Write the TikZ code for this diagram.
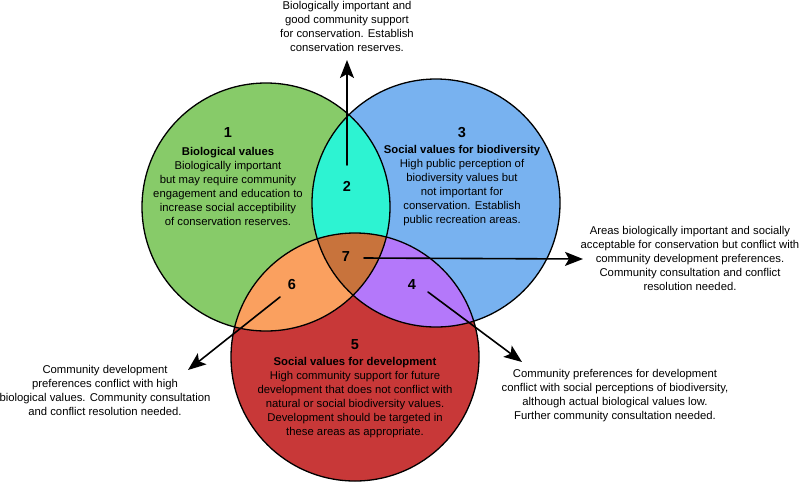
\documentclass[tikz,border=0pt]{standalone}
\usepackage{fontspec}
\setmainfont{Liberation Sans}
\usetikzlibrary{arrows.meta}

\definecolor{biogreen}{RGB}{135,203,105}
\definecolor{socblue}{RGB}{120,178,240}
\definecolor{devred}{RGB}{200,56,56}
\definecolor{overlapcyan}{RGB}{45,243,210}
\definecolor{overlaporange}{RGB}{250,160,95}
\definecolor{overlappurple}{RGB}{180,120,250}
\definecolor{overlapbrown}{RGB}{200,115,60}

\begin{document}
\begin{tikzpicture}[x=1pt,y=-1pt,line cap=round,line join=round,
        zonetext/.style={align=center,inner sep=0pt,
            font=\fontsize{11.3}{14}\selectfont},
        zonenum/.style={inner sep=1pt,font=\fontsize{14.5}{14.5}\selectfont\bfseries},
        pointer/.style={line width=1.6pt,
            -{Stealth[length=18pt,width=14pt,inset=4pt]}}]
        \def\rad{124}
        \def\gx{266}
        \def\gy{207}
        \def\bx{436}
        \def\by{203}
        \def\rx{355}
        \def\ry{357}

        \useasboundingbox (0,0) rectangle (800,483);
        \fill[white] (0,0) rectangle (800,483);

        % Three value circles
        \fill[biogreen] (\gx,\gy) circle[radius=\rad];
        \fill[socblue] (\bx,\by) circle[radius=\rad];
        \fill[devred] (\rx,\ry) circle[radius=\rad];

        % Overlap zones
        \begin{scope}
            \clip (\gx,\gy) circle[radius=\rad];
            \fill[overlapcyan] (\bx,\by) circle[radius=\rad];
            \fill[overlaporange] (\rx,\ry) circle[radius=\rad];
        \end{scope}
        \begin{scope}
            \clip (\bx,\by) circle[radius=\rad];
            \fill[overlappurple] (\rx,\ry) circle[radius=\rad];
            \clip (\gx,\gy) circle[radius=\rad];
            \fill[overlapbrown] (\rx,\ry) circle[radius=\rad];
        \end{scope}

        % Outlines
        \foreach \cx/\cy in {\gx/\gy,\bx/\by,\rx/\ry} {
            \draw[line width=1.3pt] (\cx,\cy) circle[radius=\rad];
        }

        % Zone numbers
        \node[zonenum] (n1) at (228,133) {1};
        \node[zonenum] (n3) at (462,133) {3};
        \node[zonenum] (n5) at (355,345) {5};
        \foreach \n/\px/\py in {2/347/186,7/346/257,6/292/285,4/412/285} {
            \node[zonenum] (n\n) at (\px,\py) {\n};
        }

        % Texts inside the circles
        \node[zonetext] (biotext) at (228,186)
            {\textbf{Biological values}\\Biologically important\\
             but may require community\\engagement and education to\\
             increase social acceptibility\\of conservation reserves.};
        \node[zonetext] (soctext) at (462,186)
            {\textbf{Social values for biodiversity}\\High public perception of\\
             biodiversity values but\\not important for\\
             conservation. Establish\\public recreation areas.};
        \node[zonetext] (devtext) at (355,398)
            {\textbf{Social values for development}\\High community support for future\\
             development that does not conflict with\\
             natural or social biodiversity values.\\
             Development should be targeted in\\these areas as appropriate.};

        % Notes outside
        \node[zonetext] (note2) at (347,26)
            {Biologically important and\\good community support\\
             for conservation. Establish\\conservation reserves.};
        \node[zonetext] (note7) at (690,258)
            {Areas biologically important and socially\\
             acceptable for conservation but conflict with\\
             community development preferences.\\
             Community consultation and conflict\\resolution needed.};
        \node[zonetext] (note6) at (105,390)
            {Community development\\preferences conflict with high\\
             biological values. Community consultation\\
             and conflict resolution needed.};
        \node[zonetext] (note4) at (615,396)
            {Community preferences for development\\
             conflict with social perceptions of biodiversity,\\
             although actual biological values low.\\
             Further community consultation needed.};

        % Pointers from the zones to the notes
        \coordinate (from2) at (347,165);
        \coordinate (to2) at (347,60);
        \coordinate (from7) at (364,258);
        \coordinate (to7) at (583,259);
        \coordinate (from6) at (280,297);
        \coordinate (to6) at (188,370);
        \coordinate (from4) at (428,292);
        \coordinate (to4) at (522,362);
        \draw[pointer] (from2) -- (to2);
        \draw[pointer] (from7) -- (to7);
        \draw[pointer] (from6) -- (to6);
        \draw[pointer] (from4) -- (to4);
    \end{tikzpicture}
\end{document}
